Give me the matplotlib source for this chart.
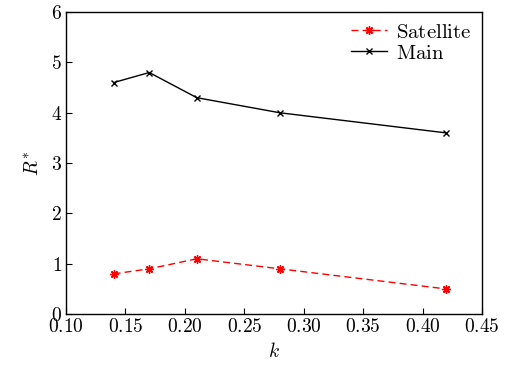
import matplotlib
matplotlib.use("Agg")
import matplotlib.pyplot as plt
from matplotlib.ticker import FuncFormatter

plt.rcParams['mathtext.fontset'] = 'cm'
plt.rcParams['font.family'] = 'serif'

k = [0.14, 0.17, 0.21, 0.28, 0.42]
satellite = [0.8, 0.9, 1.1, 0.9, 0.5]
main = [4.6, 4.8, 4.3, 4.0, 3.6]
xticks = [0.10, 0.15, 0.20, 0.25, 0.30, 0.35, 0.40, 0.45]
yticks = [0, 1, 2, 3, 4, 5, 6]

fig = plt.figure(figsize=(5.08, 3.67), dpi=100)
ax = fig.add_axes([0.130, 0.144, 0.819, 0.823])
ax.plot(k, satellite, color='red', ls=(0, (5, 3)), lw=1.0, marker=(8, 2, 0), ms=6,
        mew=1.0, label=r'$\mathrm{Satellite}$')
ax.plot(k, main, color='black', ls='-', lw=1.0, marker='x', ms=4.5, mew=1.0,
        label=r'$\mathrm{Main}$')
ax.set_xlim(0.10, 0.45)
ax.set_ylim(0, 6)
ax.set_xticks(xticks)
ax.set_yticks(yticks)
ax.xaxis.set_major_formatter(FuncFormatter(lambda v, p: r'$%.2f$' % v))
ax.yaxis.set_major_formatter(FuncFormatter(lambda v, p: r'$%d$' % round(v)))
ax.tick_params(direction='in', length=4, labelsize=14, top=False, right=False, pad=3)
for s in ax.spines.values():
    s.set_linewidth(1.0)
ax.set_xlabel(r'$k$', fontsize=14, labelpad=4)
ax.set_ylabel(r'$R^{*}$', fontsize=14, labelpad=6)
ax.legend(loc='upper right', frameon=False, fontsize=15, handlelength=1.7,
          borderaxespad=0.1, labelspacing=0.1, handletextpad=0.45)
fig.savefig('out.png', dpi=100)
